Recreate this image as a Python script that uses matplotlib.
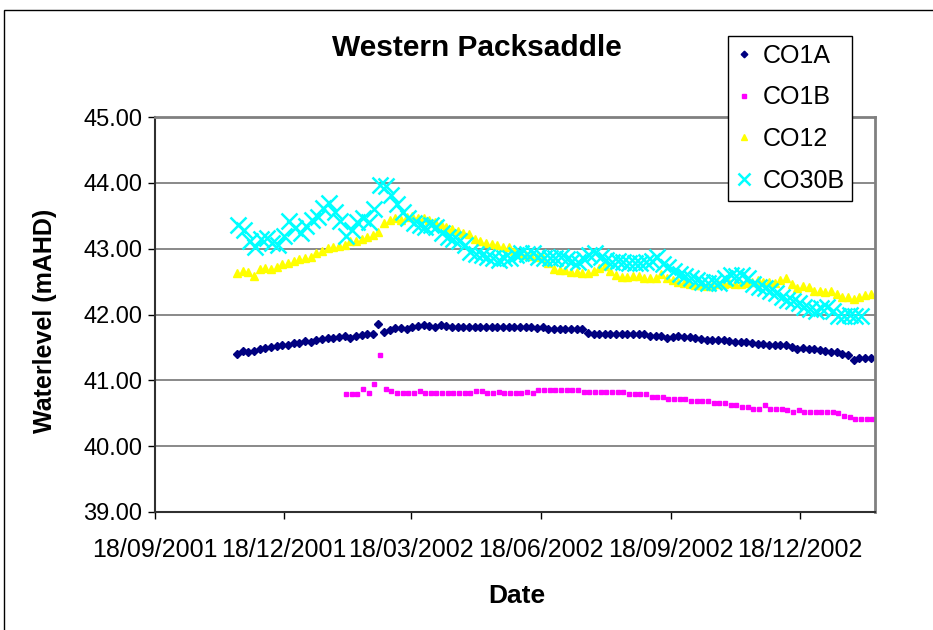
import numpy as np
import pandas as pd
import matplotlib
matplotlib.use('Agg')
import matplotlib.pyplot as plt
import matplotlib.dates as mdates
from matplotlib.patches import Rectangle

plt.rcParams['font.family'] = ['Liberation Sans', 'DejaVu Sans']

# water level readings (mAHD), one reading every 4 days
co1a_dates = pd.date_range('2001-11-15', periods=113, freq='4D')
co1a = [41.40, 41.45, 41.43, 41.44, 41.48, 41.49, 41.51, 41.52, 41.53, 41.54,
        41.56, 41.57, 41.59, 41.58, 41.62, 41.63, 41.64, 41.65, 41.66, 41.67,
        41.65, 41.68, 41.69, 41.70, 41.71, 41.86, 41.73, 41.76, 41.79, 41.80,
        41.78, 41.81, 41.83, 41.84, 41.83, 41.81, 41.84, 41.82, 41.81, 41.81,
        41.81, 41.81, 41.81, 41.81, 41.81, 41.81, 41.81, 41.81, 41.81, 41.81,
        41.81, 41.81, 41.81, 41.79, 41.81, 41.78, 41.78, 41.78, 41.78, 41.78,
        41.78, 41.78, 41.72, 41.71, 41.71, 41.71, 41.71, 41.71, 41.71, 41.71,
        41.71, 41.71, 41.70, 41.68, 41.68, 41.67, 41.64, 41.66, 41.68, 41.66,
        41.66, 41.65, 41.63, 41.62, 41.62, 41.61, 41.61, 41.59, 41.58, 41.58,
        41.58, 41.57, 41.55, 41.55, 41.54, 41.54, 41.53, 41.53, 41.50, 41.47,
        41.49, 41.47, 41.47, 41.46, 41.44, 41.43, 41.43, 41.40, 41.39, 41.31,
        41.34, 41.34, 41.34]

co1b_dates = pd.date_range('2002-01-31', periods=94, freq='4D')
co1b = [40.79, 40.79, 40.79, 40.87, 40.81, 40.94, 41.38, 40.87, 40.84, 40.81,
        40.81, 40.81, 40.81, 40.84, 40.81, 40.81, 40.81, 40.81, 40.81, 40.81,
        40.81, 40.81, 40.81, 40.84, 40.84, 40.81, 40.81, 40.83, 40.81, 40.81,
        40.81, 40.81, 40.83, 40.81, 40.85, 40.85, 40.85, 40.85, 40.85, 40.85,
        40.85, 40.85, 40.82, 40.82, 40.82, 40.82, 40.82, 40.82, 40.82, 40.82,
        40.79, 40.79, 40.79, 40.79, 40.75, 40.75, 40.75, 40.72, 40.72, 40.72,
        40.72, 40.69, 40.69, 40.69, 40.69, 40.66, 40.66, 40.66, 40.63, 40.63,
        40.60, 40.60, 40.57, 40.57, 40.62, 40.57, 40.57, 40.56, 40.55, 40.52,
        40.55, 40.52, 40.52, 40.52, 40.52, 40.52, 40.52, 40.51, 40.46, 40.44,
        40.42, 40.42, 40.42, 40.42]

co12_dates = pd.date_range('2001-11-15', periods=113, freq='4D')
co12 = [42.63, 42.66, 42.64, 42.58, 42.69, 42.70, 42.69, 42.72, 42.76, 42.78,
        42.82, 42.84, 42.86, 42.88, 42.93, 42.97, 43.01, 43.03, 43.04, 43.06,
        43.11, 43.12, 43.15, 43.18, 43.21, 43.26, 43.39, 43.44, 43.46, 43.44,
        43.48, 43.49, 43.47, 43.46, 43.44, 43.40, 43.37, 43.33, 43.30, 43.27,
        43.24, 43.22, 43.15, 43.11, 43.09, 43.07, 43.06, 43.03, 43.02, 42.97,
        42.92, 42.90, 42.89, 42.88, 42.86, 42.78, 42.69, 42.68, 42.68, 42.65,
        42.64, 42.63, 42.63, 42.66, 42.70, 42.73, 42.66, 42.60, 42.57, 42.57,
        42.58, 42.58, 42.56, 42.55, 42.56, 42.62, 42.55, 42.52, 42.49, 42.48,
        42.46, 42.45, 42.45, 42.44, 42.44, 42.46, 42.47, 42.48, 42.47, 42.46,
        42.48, 42.50, 42.53, 42.50, 42.50, 42.48, 42.52, 42.56, 42.46, 42.40,
        42.44, 42.42, 42.36, 42.35, 42.34, 42.36, 42.31, 42.27, 42.27, 42.23,
        42.27, 42.29, 42.31]

co30b_dates = pd.date_range('2001-11-16', periods=111, freq='4D')
co30b = [43.36, 43.28, 43.12, 43.03, 43.15, 43.16, 43.08, 43.06, 43.20, 43.42,
         43.32, 43.24, 43.35, 43.44, 43.48, 43.62, 43.70, 43.55, 43.42, 43.20,
         43.28, 43.40, 43.47, 43.40, 43.60, 43.97, 43.95, 43.82, 43.68, 43.56,
         43.46, 43.39, 43.36, 43.33, 43.36, 43.33, 43.24, 43.18, 43.15, 43.11,
         43.05, 42.95, 42.92, 42.90, 42.88, 42.86, 42.83, 42.86, 42.86, 42.90,
         42.93, 42.92, 42.93, 42.88, 42.86, 42.86, 42.86, 42.88, 42.84, 42.82,
         42.80, 42.84, 42.90, 42.93, 42.88, 42.83, 42.80, 42.81, 42.80, 42.78,
         42.78, 42.78, 42.79, 42.82, 42.88, 42.77, 42.72, 42.66, 42.62, 42.59,
         42.56, 42.53, 42.50, 42.48, 42.50, 42.48, 42.56, 42.60, 42.58, 42.60,
         42.55, 42.46, 42.42, 42.40, 42.36, 42.33, 42.26, 42.22, 42.20, 42.17,
         42.12, 42.08, 42.06, 42.10, 42.12, 42.05, 41.98, 41.98, 42.00, 41.97,
         41.97]

tick_dates = pd.to_datetime(['2001-09-18', '2001-12-18', '2002-03-18',
                             '2002-06-18', '2002-09-18', '2002-12-18'])

W, H = 933, 630
fig = plt.figure(figsize=(W / 100, H / 100), dpi=100)
ax = fig.add_axes([155 / W, 1 - 512 / H, (875 - 155) / W, (512 - 117) / H])

ax.plot(co1a_dates, co1a, ls='none', marker='D', ms=4.2, color='#000080', mec='#000080', label='CO1A')
ax.plot(co1b_dates, co1b, ls='none', marker='s', ms=3.4, color='#FF00FF', mec='#FF00FF', label='CO1B')
ax.plot(co12_dates, co12, ls='none', marker='^', ms=5.5, color='#FFFF00', mec='#FFFF00', label='CO12')
ax.plot(co30b_dates, co30b, ls='none', marker='x', ms=11, mew=1.8, color='#00FFFF', label='CO30B')

ax.set_xlim(pd.Timestamp('2001-09-18'), pd.Timestamp('2003-02-09'))
ax.set_ylim(39, 45)
ax.set_xticks(tick_dates)
ax.xaxis.set_major_formatter(mdates.DateFormatter('%d/%m/%Y'))
ax.set_yticks(np.arange(39, 46, 1))
ax.yaxis.set_major_formatter(matplotlib.ticker.FormatStrFormatter('%.2f'))

ax.yaxis.grid(True, color='#6a6a6a', lw=1.1)
ax.set_axisbelow(True)
for side in ['top', 'right']:
    ax.spines[side].set_color('#808080')
    ax.spines[side].set_linewidth(2)
for side in ['left', 'bottom']:
    ax.spines[side].set_color('#303030')
    ax.spines[side].set_linewidth(1.5)

ax.tick_params(axis='x', direction='out', length=5, width=1, pad=14, labelsize=18)
ax.tick_params(axis='y', direction='out', length=5, width=1, pad=4, labelsize=17)

fig.text(477 / W, 1 - 48 / H, 'Western Packsaddle', ha='center', va='center',
         fontsize=21.5, fontweight='bold')
fig.text(517 / W, 1 - 596 / H, 'Date', ha='center', va='center',
         fontsize=19, fontweight='bold')
fig.text(45 / W, 1 - 321 / H, 'Waterlevel (mAHD)', ha='center', va='center',
         rotation=90, fontsize=18, fontweight='bold')

leg = ax.legend(loc='upper left', bbox_to_anchor=(728 / W, 1 - 36 / H),
                bbox_transform=fig.transFigure, borderaxespad=0,
                fontsize=18, frameon=True, fancybox=False, framealpha=1,
                edgecolor='black', handlelength=0.6, handletextpad=0.45,
                labelspacing=0.7, borderpad=0.32, markerscale=0.8)
leg.get_frame().set_linewidth(1)
leg.set_zorder(10)

# chart area border
fig.add_artist(Rectangle((4 / W, -0.1), 1.5, 1.1 - 10 / H, transform=fig.transFigure,
                         fill=False, ec='black', lw=1))

fig.savefig('out.png', dpi=100)
